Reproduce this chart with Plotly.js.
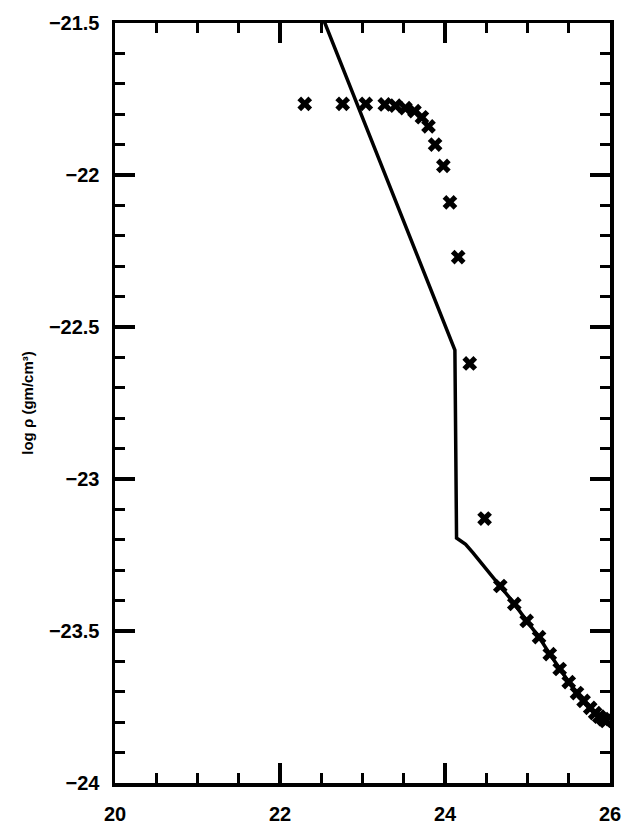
<!DOCTYPE html>
<html>
<head>
<meta charset="utf-8">
<script src="https://cdn.plot.ly/plotly-3.0.1.min.js"></script>
<style>html,body{margin:0;padding:0;background:#fff;}#chart{width:626px;height:828px;}</style>
</head>
<body>
<div id="chart"></div>
<script>
// Model curve (solid line)
const lineX = [22.50, 23.00, 23.50, 24.12, 24.14, 24.25, 24.34, 24.45, 24.63, 24.84, 24.99, 25.14, 25.27, 25.39, 25.50, 25.60, 25.68, 25.76, 25.82, 25.87, 25.92, 25.96];
const lineY = [-21.47, -21.81, -22.15, -22.576, -23.194, -23.215, -23.243, -23.28, -23.34, -23.41, -23.467, -23.52, -23.576, -23.625, -23.668, -23.704, -23.73, -23.753, -23.77, -23.782, -23.792, -23.80];

// Data points (x markers)
const ptsX = [22.30, 22.76, 23.04, 23.27, 23.40, 23.52, 23.63, 23.72, 23.80, 23.88, 23.98, 24.06, 24.16, 24.30, 24.48, 24.67, 24.84, 24.99, 25.14, 25.27, 25.39, 25.50, 25.60, 25.68, 25.76, 25.82, 25.87, 25.92, 25.95];
const ptsY = [-21.766, -21.766, -21.766, -21.768, -21.772, -21.78, -21.79, -21.81, -21.84, -21.90, -21.97, -22.09, -22.27, -22.62, -23.13, -23.352, -23.411, -23.467, -23.52, -23.576, -23.625, -23.668, -23.704, -23.73, -23.753, -23.77, -23.782, -23.79, -23.796];

const xTickVals = [20, 22, 24, 26];
const yTickVals = [-24, -23.5, -23, -22.5, -22, -21.5];
const yTickText = ['−24', '−23.5', '−23', '−22.5', '−22', '−21.5'];

const fontFam = 'Liberation Sans, Arial, sans-serif';

const traces = [
  {x: lineX, y: lineY, type: 'scatter', mode: 'lines', line: {color: '#000', width: 3.5}, hoverinfo: 'skip', cliponaxis: true},
  {x: ptsX, y: ptsY, type: 'scatter', mode: 'markers', marker: {symbol: 'x', size: 13, color: '#000', line: {width: 0}}, cliponaxis: false}
];

const axisCommon = {
  showgrid: false, zeroline: false, showline: true, linecolor: '#000', linewidth: 3.5,
  mirror: 'allticks', ticks: 'inside', ticklen: 20, tickwidth: 3.5, tickcolor: '#000',
  tickfont: {family: fontFam, size: 20, color: '#000', weight: 'bold'}
};

const layout = {
  width: 626, height: 828,
  margin: {l: 115, r: 16, t: 23, b: 45},
  paper_bgcolor: '#fff', plot_bgcolor: '#fff',
  showlegend: false,
  xaxis: Object.assign({}, axisCommon, {
    range: [20, 26], tickvals: xTickVals, ticktext: xTickVals.map(String),
    ticklabelstandoff: 10,
    minor: {dtick: 0.5, ticks: 'inside', ticklen: 10, tickwidth: 3, tickcolor: '#000'}
  }),
  yaxis: Object.assign({}, axisCommon, {
    range: [-24, -21.5], tickvals: yTickVals, ticktext: yTickText,
    ticklabelstandoff: 8,
    minor: {dtick: 0.1, ticks: 'inside', ticklen: 10, tickwidth: 3, tickcolor: '#000'},
    title: {text: 'log ρ (gm/cm³)', standoff: 12, font: {family: fontFam, size: 15, color: '#000', weight: 'bold'}}
  })
};

Plotly.newPlot('chart', traces, layout, {displayModeBar: false, staticPlot: true});
</script>
</body>
</html>
